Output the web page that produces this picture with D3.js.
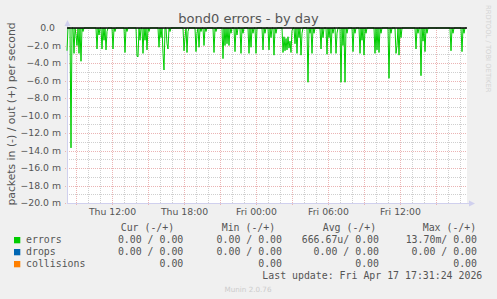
<!DOCTYPE html>
<html><head><meta charset="utf-8">
<script src="https://cdn.jsdelivr.net/npm/d3@7"></script>
<style>
html,body{margin:0;padding:0;background:#f0f0f0;}
svg{display:block;}
text{font-family:"DejaVu Sans",sans-serif;}
text.mono{font-family:"DejaVu Sans Mono",monospace;}
</style></head><body>
<svg id="c" width="497" height="299"></svg>
<script>
// ---- data ----
const title = "bond0 errors - by day";
const yLabel = "packets in (-) / out (+) per second";
const yTicks = [0, -2, -4, -6, -8, -10, -12, -14, -16, -18, -20];   // milli
const xTickLabels = ["Thu 12:00", "Thu 18:00", "Fri 00:00", "Fri 06:00", "Fri 12:00"];
const xTickTimes = ["2026-04-16T12:00:00Z", "2026-04-16T18:00:00Z", "2026-04-17T00:00:00Z", "2026-04-17T06:00:00Z", "2026-04-17T12:00:00Z"];
const startTime = "2026-04-16T08:15:00Z";
const stepMinutes = 5;
const slotCount = 400;
// errors "in" (drawn negative), [5-minute slot, value in milli packets/s]; all other slots are 0
const errorSpikes = [
 [0,2.6],[4,13.7],[7,2.9],[9,0.8],[10,2.0],[12,2.9],[14,3.8],[16,0.4],
 [30,2.4],[32,0.8],[35,2.4],[37,1.4],[39,2.5],[40,0.4],[46,2.4],[48,0.4],
 [58,2.8],[60,0.4],[70,3.2],[71,3.3],[73,1.4],[76,2.9],[78,1.4],[80,2.5],[82,0.4],
 [92,2.2],[94,1.1],[96,2.9],[97,4.8],[100,1.8],[101,2.4],[103,0.4],
 [117,2.6],[118,1.1],[120,2.8],[121,0.4],[129,2.7],[130,0.6],[132,2.2],[134,0.4],
 [137,2.0],[139,0.4],[147,2.8],[149,0.4],[156,3.5],[158,2.0],[160,1.8],[162,2.0],[164,0.6],
 [168,2.7],[170,0.8],[174,2.9],[176,0.6],[182,2.9],[184,2.2],[186,0.6],[189,2.9],
 [196,2.5],[198,0.6],[202,2.5],[204,1.1],[207,3.1],[209,0.6],
 [216,2.8],[217,1.0],[218,2.6],[219,1.2],[220,2.5],[221,1.0],[222,2.3],[223,1.5],[224,2.8],[225,0.3],
 [228,1.8],[230,2.9],[232,1.1],[234,3.1],[235,0.6],[241,6.2],[243,0.6],[245,2.9],[247,0.6],
 [254,2.4],[256,1.1],[260,3.0],[262,1.1],[264,2.9],[266,0.6],[269,2.9],[270,0.6],
 [274,6.2],[276,2.0],[278,6.2],[280,0.6],[286,2.7],[288,0.6],[293,2.9],[295,1.4],[297,3.1],[299,0.6],
 [308,2.9],[310,2.5],[312,2.8],[314,0.6],[322,5.75],[324,0.6],[329,2.9],[330,2.0],[332,3.1],[334,1.1],
 [349,2.4],[351,0.6],[354,5.45],[356,1.5],[358,2.7],[360,0.6],[384,2.6],[386,0.6],[395,2.7],[397,0.6]
];
const legendNames = ["errors", "drops", "collisions"];
const legendColors = ["#00CC00", "#0066B3", "#FF8000"];
const colHeaders = ["Cur (-/+)", "Min (-/+)", "Avg (-/+)", "Max (-/+)"];
const curVals = ["0.00 / 0.00", "0.00 / 0.00", "0.00"];
const minVals = ["0.00 / 0.00", "0.00 / 0.00", "0.00"];
const avgVals = ["666.67u/ 0.00", "0.00 / 0.00", "0.00"];
const maxVals = ["13.70m/ 0.00", "0.00 / 0.00", "0.00"];
const lastUpdate = "Last update: Fri Apr 17 17:31:24 2026";
const footer = "Munin 2.0.76";
const sideText = "RRDTOOL / TOBI OETIKER";

// ---- build ----
const svg = d3.select("#c");
const L = 67, R = 467, T = 28, B = 203;
const t0 = new Date(startTime);
const t1 = new Date(t0.getTime() + slotCount * stepMinutes * 60000);
const x = d3.scaleUtc().domain([t0, t1]).range([L, R]);
const y = d3.scaleLinear().domain([-20, 0]).range([B, T]);

const spikeMap = new Map(errorSpikes);
const series = d3.range(slotCount).map(i => ({
  t: new Date(t0.getTime() + i * stepMinutes * 60000),
  v: -(spikeMap.get(i) || 0)
}));

svg.append("rect").attr("x", L).attr("y", T).attr("width", R - L).attr("height", B - T).attr("fill", "#fff");

const grid = svg.append("g");
const minorCol = "#cfcfcf", majorCol = "#ebb4b4";
// minor horizontal
const minorY = [-1,-3,-5,-7,-9,-11,-13,-15,-17,-19];
grid.selectAll(".hm").data(minorY).enter().append("line")
  .attr("x1", L).attr("x2", R).attr("y1", d => Math.round(y(d)) + 0.5).attr("y2", d => Math.round(y(d)) + 0.5)
  .attr("stroke", minorCol).attr("stroke-dasharray", "1,1");
// minor vertical hourly
const hours = d3.utcHour.range(d3.utcHour.ceil(t0), t1);
grid.selectAll(".vm").data(hours).enter().append("line")
  .attr("y1", T).attr("y2", B).attr("x1", d => Math.round(x(d)) + 0.5).attr("x2", d => Math.round(x(d)) + 0.5)
  .attr("stroke", minorCol).attr("stroke-dasharray", "1,1");
// major vertical (every 3h)
const majors = hours.filter(d => d.getUTCHours() % 3 === 0);
grid.selectAll(".vM").data(majors).enter().append("line")
  .attr("y1", T).attr("y2", B + 3).attr("x1", d => Math.round(x(d)) + 0.5).attr("x2", d => Math.round(x(d)) + 0.5)
  .attr("stroke", majorCol).attr("stroke-dasharray", "1,1");
// major horizontal
grid.selectAll(".hM").data(yTicks.slice(1)).enter().append("line")
  .attr("x1", L - 2).attr("x2", R).attr("y1", d => Math.round(y(d)) + 0.5).attr("y2", d => Math.round(y(d)) + 0.5)
  .attr("stroke", majorCol).attr("stroke-dasharray", "1,1");

// axes lines
svg.append("line").attr("x1", L + 0.5).attr("x2", L + 0.5).attr("y1", T - 4).attr("y2", B).attr("stroke", "#d0d0ee");
svg.append("line").attr("x1", L).attr("x2", R + 3).attr("y1", B + 0.5).attr("y2", B + 0.5).attr("stroke", "#d0d0ee");
svg.append("path").attr("d", `M${L-2.5},${T-2} L${L+3.5},${T-2} L${L+0.5},${T-8} Z`).attr("fill", "#d0d0ee");
svg.append("path").attr("d", `M${R+2},${B-2.5} L${R+2},${B+3.5} L${R+8},${B+0.5} Z`).attr("fill", "#d0d0ee");

// y axis labels
const yAxis = d3.axisLeft(y).tickValues(yTicks).tickSize(0).tickPadding(6)
  .tickFormat(d => d === 0 ? "0.0" : d3.format(".1f")(d) + " m");
const gy = svg.append("g").attr("transform", `translate(${L},0)`).call(yAxis);
gy.select(".domain").remove();
gy.selectAll("text").attr("fill", "#555").style("font-size", "9.3px").style("font-family", "DejaVu Sans")
  .attr("dx", d => d === 0 ? -6 : 0);

// x axis labels
const xAxis = d3.axisBottom(x).tickValues(xTickTimes.map(s => new Date(s))).tickSize(0).tickPadding(5.5)
  .tickFormat((d, i) => xTickLabels[i]);
const gx = svg.append("g").attr("transform", `translate(0,${B})`).call(xAxis);
gx.select(".domain").remove();
gx.selectAll("text").attr("fill", "#555").style("font-size", "9.3px").style("font-family", "DejaVu Sans");

// series
const line = d3.line().x(d => x(d.t)).y(d => y(d.v));
svg.append("path").datum(series).attr("d", line).attr("fill", "none").attr("stroke", "#00CC00").attr("stroke-width", 1);
svg.append("line").attr("x1", L).attr("x2", R).attr("y1", y(0)).attr("y2", y(0)).attr("stroke", "#000").attr("stroke-width", 1.3);

// title
svg.append("text").attr("x", 248.5).attr("y", 23).attr("text-anchor", "middle")
  .attr("fill", "#555").style("font-size", "13px").text(title);
// y label
svg.append("text").attr("transform", "translate(14.5,114) rotate(-90)").attr("text-anchor", "middle")
  .attr("fill", "#555").style("font-size", "10.8px").text(yLabel);
// side text
svg.append("text").attr("transform", "translate(486,5) rotate(90)").attr("text-anchor", "start")
  .attr("fill", "#d4d4d4").style("font-size", "6.8px").text(sideText);

// legend
const lg = svg.append("g");
const mono = sel => sel.attr("class", "mono").style("font-size", "9.9px").attr("fill", "#555");
const headerX = [120.7, 221.7, 322.7, 422.7];
colHeaders.forEach((h, i) => lg.append("text").call(mono).attr("x", headerX[i]).attr("y", 231).text(h));
const colRight = [183.3, 282, 379, 477];
const cols = [curVals, minVals, avgVals, maxVals];
legendNames.forEach((n, r) => {
  const yy = 243 + r * 12;
  svg.append("rect").attr("x", 14).attr("y", yy - 6).attr("width", 6.3).attr("height", 6.3).attr("fill", legendColors[r]);
  lg.append("text").call(mono).attr("x", 26).attr("y", yy).text(n);
  cols.forEach((c, ci) => lg.append("text").call(mono).attr("x", colRight[ci]).attr("y", yy).attr("text-anchor", "end").text(c[r]));
});
lg.append("text").call(mono).attr("x", 482.3).attr("y", 279).attr("text-anchor", "end").text(lastUpdate);
svg.append("text").attr("x", 248).attr("y", 291.5).attr("text-anchor", "middle").attr("fill", "#cccccc")
  .style("font-size", "7.2px").text(footer);
</script></body></html>
